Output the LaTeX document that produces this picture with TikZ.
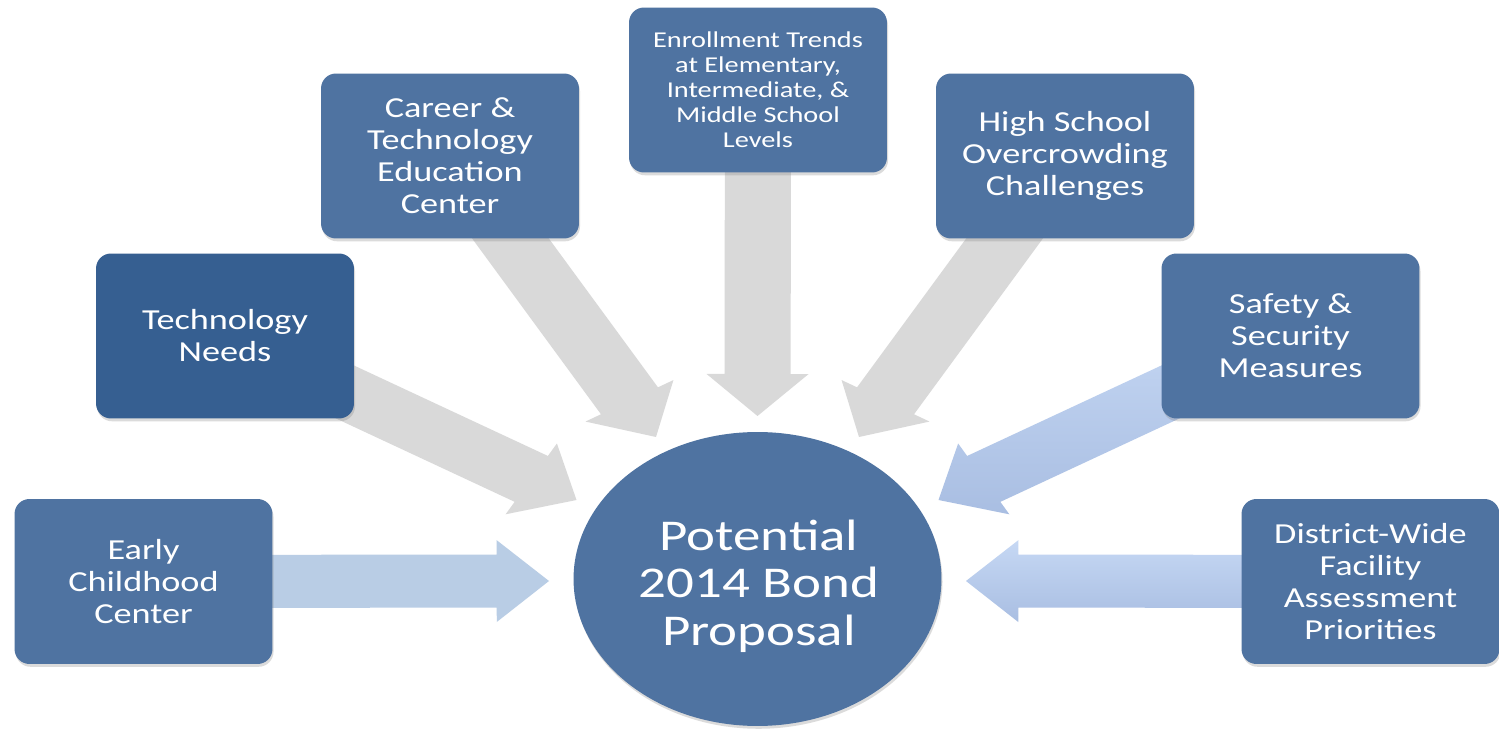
\documentclass[tikz,border=0pt]{standalone}
\usepackage{fontspec}
\newfontfamily\dfont[FakeStretch=1.25]{Carlito}
\usetikzlibrary{shapes.geometric,calc,shadows}
\definecolor{boxblue}{HTML}{4F73A1}
\definecolor{darkblue}{HTML}{365F91}
\definecolor{arrgray}{HTML}{D9D9D9}
\definecolor{arrblue}{HTML}{B9CDE5}
\definecolor{arrbluetop}{HTML}{C6D8F4}
\definecolor{arrbluebot}{HTML}{A9BEE2}
\pgfdeclarelayer{arrowlayer}
\pgfsetlayers{arrowlayer,main}
\newcommand\arrK{1.246}
\newcommand\arrH{23.9}
\newcommand\arrW{23.3}
\newcommand\arrw{15.1}
% #1 from node, #2 tip coordinate, #3 path style
\newcommand\blockarrow[3]{%
  \path[#3] let \p1=(#1), \p2=(#2),
    \n1={(\x2-\x1)/\arrK}, \n2={\y2-\y1}, \n3={veclen(\n1,\n2)},
    \n4={\n1/\n3}, \n5={\n2/\n3}
  in (\p2)
  -- ({\x2+\arrK*(-\arrH*(\n4)-\arrW*(\n5))}, {\y2-\arrH*(\n5)+\arrW*(\n4)})
  -- ({\x2+\arrK*(-\arrH*(\n4)-\arrw*(\n5))}, {\y2-\arrH*(\n5)+\arrw*(\n4)})
  -- ({\x1+\arrK*(-\arrw*(\n5))}, {\y1+\arrw*(\n4)})
  -- ({\x1+\arrK*(\arrw*(\n5))}, {\y1-\arrw*(\n4)})
  -- ({\x2+\arrK*(-\arrH*(\n4)+\arrw*(\n5))}, {\y2-\arrH*(\n5)-\arrw*(\n4)})
  -- ({\x2+\arrK*(-\arrH*(\n4)+\arrW*(\n5))}, {\y2-\arrH*(\n5)-\arrW*(\n4)})
  -- cycle;}
\begin{document}
\begin{tikzpicture}[x=0.02cm,y=-0.02cm,
  shadowed/.style={drop shadow={shadow xshift=0.6pt,shadow yshift=-1.6pt,opacity=0.28}},
  box/.style={rectangle, rounded corners=8.5pt, fill=boxblue, text=white,
    minimum width=146.8pt, minimum height=93.9pt, align=center, inner sep=0pt,
    font=\dfont\fontsize{16.5}{18.2}\selectfont, shadowed},
  smallbox/.style={box, font=\dfont\fontsize{12.9}{14.2}\selectfont},
  bondnode/.style={ellipse, fill=boxblue, minimum width=209.4pt,
    minimum height=167.3pt, inner sep=0pt, shadowed},
  bondtext/.style={text=white, align=center, inner sep=0pt,
    font=\dfont\fontsize{25}{27}\selectfont},
  grayarrow/.style={fill=arrgray},
  bluearrow/.style={fill=arrblue},
  shadedarrow/.style={top color=arrbluetop, bottom color=arrbluebot}]
\useasboundingbox (0,0) rectangle (1499,729);
\node[box] (early) at (143.5,581.5) {Early\\Childhood\\Center};
\node[box, fill=darkblue] (tech) at (225,336) {Technology\\Needs};
\node[box] (career) at (450,156) {Career \&\\Technology\\Education\\Center};
\node[smallbox] (enroll) at (758,90) {Enrollment Trends\\at Elementary,\\Intermediate, \&\\Middle School\\Levels};
\node[box] (high) at (1065,156) {High School\\Overcrowding\\Challenges};
\node[box] (safety) at (1290.5,336) {Safety \&\\Security\\Measures};
\node[box] (district) at (1370.5,581.5) {District-Wide\\Facility\\Assessment\\Priorities};
\node[bondnode] (bond) at (757.5,579) {};
\node[bondtext] (bondlabel) at (759,586) {Potential\\2014 Bond\\Proposal};
\coordinate (t1) at (549,581);
\coordinate (t2) at (576.5,500);
\coordinate (t3) at (656,437);
\coordinate (t4) at (757.5,416);
\coordinate (t5) at (859,437);
\coordinate (t6) at (938.5,500);
\coordinate (t7) at (966,581);
\begin{pgfonlayer}{arrowlayer}
\fill[white] (0,0) rectangle (1499,729);
\blockarrow{early.center}{t1}{bluearrow}
\blockarrow{tech.center}{t2}{grayarrow}
\blockarrow{career.center}{t3}{grayarrow}
\blockarrow{enroll.center}{t4}{grayarrow}
\blockarrow{high.center}{t5}{grayarrow}
\blockarrow{safety.center}{t6}{shadedarrow}
\blockarrow{district.center}{t7}{shadedarrow}
\end{pgfonlayer}
\end{tikzpicture}
\end{document}
